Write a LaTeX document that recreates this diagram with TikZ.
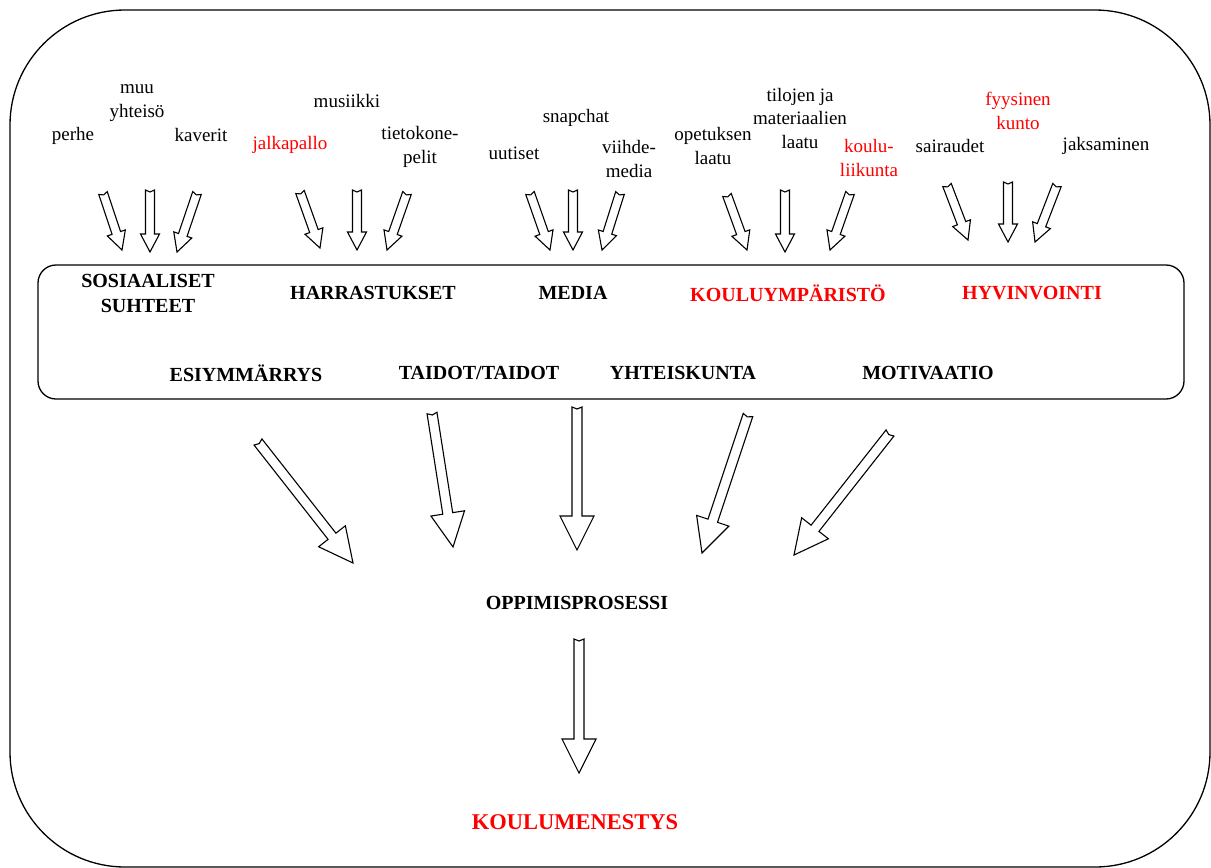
\documentclass[tikz,border=0pt]{standalone}
\usepackage{fontspec}
\setmainfont{Liberation Serif}
\usetikzlibrary{
  calc,
  positioning
}

\tikzset{
  factor/.style={font=\fontsize{19}{23.5}\selectfont, align=center, inner sep=0pt},
  theme/.style={font=\fontsize{20}{25}\selectfont\bfseries, align=center, inner sep=0pt},
  hot/.style={text=red},
  hollow/.style={draw, fill=white, line width=1.1pt, line join=miter},
  frame/.style={draw, line width=1.3pt}
}

% arrow id, half shaft, half head, head length
\newcommand{\blockarrow}[4]{%
  \coordinate (c#1) at ($(b#1)!#4!(a#1)$);
  \draw[hollow] ($(a#1)!#2!90:(b#1)$) -- ($(c#1)!#2!90:(b#1)$)
    -- ($(c#1)!#3!90:(b#1)$) -- (b#1) -- ($(c#1)!#3!-90:(b#1)$)
    -- ($(c#1)!#2!-90:(b#1)$) -- ($(a#1)!#2!-90:(b#1)$)
    -- ($(a#1)!2pt!(b#1)$) -- cycle;}

\begin{document}
\begin{tikzpicture}[x=1pt, y=-1pt]
  \useasboundingbox (0,0) rectangle (1211,868);
  \draw[frame, rounded corners=115pt] (10,10) rectangle (1210,867);
  \draw[frame, rounded corners=18pt] (38,265) rectangle (1184,399);

  \node[factor] (perhe) at (73,136) {perhe};
  \node[factor] (muu) at (137,103) {muu\\yhteisö};
  \node[factor] (kaverit) at (201,135) {kaverit};
  \node[factor, hot] (jalkapallo) at (290,145) {jalkapallo};
  \node[factor] (musiikki) at (347,101) {musiikki};
  \node[factor] (pelit) at (420,147) {tietokone-\\pelit};
  \node[factor] (snapchat) at (576,118) {snapchat};
  \node[factor] (uutiset) at (514,153) {uutiset};
  \node[factor] (viihde) at (629,159) {viihde-\\media};
  \node[factor] (opetus) at (713,146) {opetuksen\\laatu};
  \node[factor] (tilat) at (800,118) {tilojen ja\\materiaalien\\laatu};
  \node[factor, hot] (liikunta) at (869,158) {koulu-\\liikunta};
  \node[factor] (sairaudet) at (950,146) {sairaudet};
  \node[factor, hot] (kunto) at (1018,111) {fyysinen\\kunto};
  \node[factor] (jaksaminen) at (1106,146) {jaksaminen};

  \node[theme] (suhteet) at (148,293) {SOSIAALISET\\SUHTEET};
  \node[theme] (harrastukset) at (373,293) {HARRASTUKSET};
  \node[theme] (media) at (573,293) {MEDIA};
  \node[theme, hot] (ymparisto) at (788,293) {KOULUYMPÄRISTÖ};
  \node[theme, hot] (hyvinvointi) at (1032,293) {HYVINVOINTI};
  \node[theme] (esiymmarrys) at (246,373) {ESIYMMÄRRYS};
  \node[theme] (taidot) at (479,373) {TAIDOT/TAIDOT};
  \node[theme] (yhteiskunta) at (683,373) {YHTEISKUNTA};
  \node[theme] (motivaatio) at (928,373) {MOTIVAATIO};
  \node[theme] (prosessi) at (577,603) {OPPIMISPROSESSI};
  \node[theme, hot, font=\fontsize{22.5}{27}\selectfont\bfseries] (menestys) at (575,822) {KOULUMENESTYS};

  \foreach \i/\ax/\ay/\bx/\by in {1/103/193/122/250, 2/150/190/150/252, 3/197/193/177/252,
      4/300/192/320/248, 5/357/190/357/250, 6/407/193/387/250,
      7/530/193/550/250, 8/573/190/573/250, 9/620/193/602/250,
      10/727/195/747/250, 11/785/190/785/252, 12/850/193/830/250,
      13/947/185/968/240, 14/1008/182/1008/242, 15/1057/185/1035/242} {
    \coordinate (a\i) at (\ax,\ay);
    \coordinate (b\i) at (\bx,\by);
    \blockarrow{\i}{4.5pt}{9.5pt}{18pt}
  }

  \foreach \i/\ax/\ay/\bx/\by in {21/258/442/353/563, 22/432/413/453/547, 23/577/407/577/550,
      24/748/415/702/553, 25/890/433/794/555, 26/579/639/579/773} {
    \coordinate (a\i) at (\ax,\ay);
    \coordinate (b\i) at (\bx,\by);
    \blockarrow{\i}{5pt}{17pt}{34pt}
  }
\end{tikzpicture}
\end{document}
